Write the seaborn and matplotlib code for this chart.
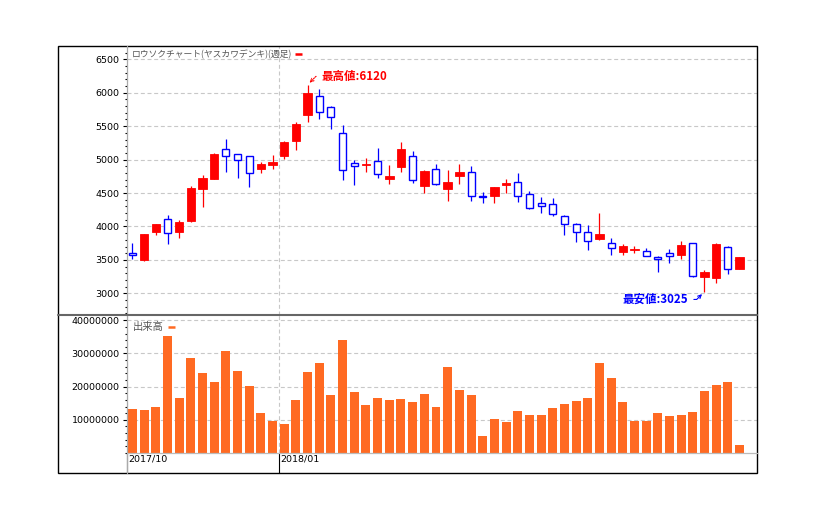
import numpy as np
import pandas as pd
import matplotlib
matplotlib.use("Agg")
import matplotlib.pyplot as plt
import seaborn as sns
from matplotlib.lines import Line2D
from matplotlib.patches import Rectangle
from matplotlib.ticker import MultipleLocator, FuncFormatter, FixedLocator
import matplotlib.transforms as mtransforms

# ---------------- data ----------------
week_start = "2017-10-02"
opens = [3600, 3494, 3918, 4107, 3923, 4082, 4566, 4715, 5154, 5079,
         5049, 4865, 4920, 5059, 5284, 5672, 5947, 5782, 5393, 4945,
         4925, 4975, 4715, 4895, 5049, 4611, 4855, 4566, 4760, 4810,
         4450, 4461, 4626, 4661, 4481, 4351, 4332, 4152, 4032, 3913,
         3818, 3748, 3614, 3644, 3629, 3539, 3599, 3569, 3748, 3250,
         3235, 3689, 3369]
highs = [3760, 3890, 4040, 4172, 4092, 4606, 4765, 5100, 5309, 5082,
         5052, 4960, 5064, 5284, 5563, 6120, 6056, 5802, 5513, 4990,
         5024, 5174, 4915, 5264, 5129, 4845, 4935, 4845, 4935, 4905,
         4511, 4591, 4710, 4800, 4526, 4441, 4421, 4177, 4052, 4017,
         4197, 3823, 3733, 3713, 3674, 3554, 3659, 3778, 3750, 3350,
         3758, 3708, 3540]
lows = [3510, 3485, 3878, 3743, 3833, 4072, 4297, 4712, 4820, 4730,
        4596, 4805, 4865, 5014, 5149, 5568, 5613, 5463, 4700, 4626,
        4820, 4730, 4641, 4820, 4656, 4506, 4626, 4386, 4641, 4386,
        4356, 4356, 4506, 4371, 4267, 4207, 4162, 3878, 3773, 3654,
        3793, 3569, 3569, 3599, 3554, 3325, 3459, 3519, 3250, 3025,
        3160, 3295, 3369]
closes = [3570, 3888, 4037, 3908, 4067, 4576, 4725, 5084, 5049, 4990,
          4795, 4935, 4965, 5264, 5533, 5997, 5707, 5633, 4840, 4900,
          4935, 4780, 4755, 5159, 4690, 4830, 4641, 4666, 4815, 4461,
          4440, 4591, 4651, 4461, 4282, 4302, 4182, 4032, 3913, 3778,
          3883, 3673, 3703, 3664, 3554, 3509, 3554, 3718, 3265, 3320,
          3738, 3369, 3539]
volumes = [13300000, 13000000, 13900000, 35300000, 16600000, 28700000,
           24200000, 21400000, 30800000, 24800000, 20200000, 12100000,
           9700000, 8800000, 16000000, 24500000, 27200000, 17500000,
           34100000, 18400000, 14500000, 16600000, 16000000, 16300000,
           15400000, 17800000, 13900000, 26000000, 19000000, 17500000,
           5100000, 10300000, 9400000, 12700000, 11500000, 11500000,
           13600000, 14800000, 15700000, 16600000, 27200000, 22700000,
           15400000, 9700000, 9700000, 12100000, 11200000, 11500000,
           12400000, 18700000, 20500000, 21400000, 2400000]
tick_labels = ["2017/10", "2018/01"]
tick_weeks = [0, 13]
title_text = "ロウソクチャート(ヤスカワデンキ)(週足)"
volume_label = "出来高"
high_label = "最高値"
low_label = "最安値"

# ---------------- style ----------------
sns.set_style("ticks")
plt.rcParams['font.family'] = ['DejaVu Sans']
CJK = ['Noto Sans CJK JP', 'DejaVu Sans']
RED = "#FF0000"
BLUE = "#0000FF"
ORANGE = "#FF6A22"
GRID = "#C8C8C8"

n = len(opens)
df = pd.DataFrame({
    "week": np.arange(n),
    "date": pd.date_range(week_start, periods=n, freq="W-MON"),
    "open": opens, "high": highs, "low": lows, "close": closes,
    "volume": volumes,
})

W, H = 815, 520
fig = plt.figure(figsize=(W / 100, H / 100), dpi=100)
fig.patch.set_facecolor("white")


def fx(px):
    return px / W


def fy(py):
    return 1 - py / H


L, R = 127, 757
T, MID, BOT, FB = 46, 315, 453, 472.5
ax_p = fig.add_axes([fx(L), fy(MID), fx(R) - fx(L), fy(T) - fy(MID)])
ax_v = fig.add_axes([fx(L), fy(BOT), fx(R) - fx(L), fy(MID) - fy(BOT)], sharex=ax_p)

# ---------------- volume (seaborn) ----------------
sns.barplot(data=df, x="week", y="volume", native_scale=True, color=ORANGE,
            saturation=1, width=0.77, errorbar=None, linewidth=0, ax=ax_v)
ax_v.set_xlabel("")
ax_v.set_ylabel("")

# ---------------- candles ----------------
o = df["open"].to_numpy(float)
c = df["close"].to_numpy(float)
hi = df["high"].to_numpy(float)
lo = df["low"].to_numpy(float)
x = df["week"].to_numpy()
up = c >= o
bb = np.minimum(o, c)
bh = np.abs(c - o)

ax_p.vlines(x[up], lo[up], hi[up], color=RED, lw=0.9, zorder=2)
ax_p.vlines(x[~up], lo[~up], hi[~up], color=BLUE, lw=0.9, zorder=2)
ax_p.bar(x[up], bh[up], bottom=bb[up], width=0.72, color=RED,
         edgecolor=RED, lw=0.6, zorder=3)
ax_p.bar(x[~up], bh[~up], bottom=bb[~up], width=0.6, facecolor="white",
         edgecolor=BLUE, lw=1.0, zorder=3)

# ---------------- axes scales ----------------
ax_p.set_xlim(-0.471, 53.5)
ax_p.set_ylim(2676, 6699)
ax_v.set_ylim(0, 41.6e6)

for ax in (ax_p, ax_v):
    for s in ax.spines.values():
        s.set_visible(False)
    ax.set_facecolor("white")
    ax.set_axisbelow(True)

xt = np.array(tick_weeks) - 0.44
ax_p.xaxis.set_major_locator(FixedLocator(xt))

ax_p.yaxis.set_major_locator(MultipleLocator(500))
ax_p.yaxis.set_minor_locator(MultipleLocator(100))
ax_p.yaxis.set_major_formatter(FuncFormatter(lambda v, p: f"{int(v)}"))
ax_v.yaxis.set_major_locator(FixedLocator([10e6, 20e6, 30e6, 40e6]))
ax_v.yaxis.set_minor_locator(MultipleLocator(2e6))
ax_v.yaxis.set_major_formatter(FuncFormatter(lambda v, p: f"{int(v)}"))

for ax in (ax_p, ax_v):
    ax.tick_params(axis="y", which="major", left=True, length=3.0, width=0.8,
                   color="black", direction="out", pad=2.2, labelsize=6.8,
                   labelcolor="black")
    ax.tick_params(axis="y", which="minor", left=True, length=1.6, width=0.8,
                   color="black", direction="out")
    ax.grid(True, which="major", color=GRID, linestyle=(0, (3.6, 2.4)),
            linewidth=0.8)
ax_p.tick_params(axis="x", which="both", bottom=False, labelbottom=False)
ax_v.tick_params(axis="x", which="major", bottom=True, length=14.4, width=0.8,
                 color="black", direction="out", labelbottom=False)
ax_v.tick_params(axis="x", which="minor", bottom=False)

trans_v = mtransforms.blended_transform_factory(ax_v.transData, ax_v.transAxes)
for pos, lab in zip(xt, tick_labels):
    ax_v.text(pos + 0.08, -0.04, lab, transform=trans_v, ha="left",
              va="center", fontsize=6.8, color="black")

# ---------------- titles / legend markers ----------------
t1 = ax_p.text(0.008, 0.969, title_text, transform=ax_p.transAxes,
               fontsize=6.35, color="#555555", family=CJK, ha="left", va="center")
t2 = ax_v.text(0.009, 0.913, volume_label, transform=ax_v.transAxes,
               fontsize=7.4, color="#555555", family=CJK, ha="left", va="center")

# ---------------- high / low annotations ----------------
imax = int(np.argmax(hi))
imin = int(np.argmin(lo))
ax_p.annotate(f"{high_label}:{int(hi[imax])}", xy=(imax, hi[imax]),
              xytext=(10, 6), textcoords="offset points", ha="left",
              va="center", color=RED, fontsize=8.3, fontweight="bold",
              family=CJK, zorder=5,
              arrowprops=dict(arrowstyle="->", color=RED, lw=0.8,
                              linestyle=(0, (1.2, 1.0)),
                              connectionstyle="angle,angleA=0,angleB=45,rad=0",
                              relpos=(0, 0.5), shrinkA=1.5, shrinkB=2,
                              mutation_scale=6))
ax_p.annotate(f"{low_label}:{int(lo[imin])}", xy=(imin, lo[imin]),
              xytext=(-11.5, -5.6), textcoords="offset points", ha="right",
              va="center", color=BLUE, fontsize=8.3, fontweight="bold",
              family=CJK, zorder=5,
              arrowprops=dict(arrowstyle="->", color=BLUE, lw=0.8,
                              connectionstyle="angle,angleA=0,angleB=45,rad=0",
                              relpos=(1, 0.5), shrinkA=1.5, shrinkB=2.5,
                              mutation_scale=6))

# ---------------- frame & separators ----------------
fig.add_artist(Line2D([fx(L), fx(L)], [fy(T), fy(FB)], color="#AAAAAA", lw=0.9))
fig.add_artist(Line2D([fx(L), fx(R)], [fy(BOT), fy(BOT)], color="#BBBBBB", lw=0.9))
fig.add_artist(Line2D([fx(58), fx(757)], [fy(314.5), fy(314.5)], color="#666666", lw=1.5))
fig.add_artist(Rectangle((fx(58), fy(FB)), fx(757.5) - fx(58), fy(T) - fy(FB),
                         transform=fig.transFigure, fill=False, ec="black", lw=1.0))

# legend markers placed after the label texts
fig.canvas.draw()
renderer = fig.canvas.get_renderer()
for t, col, gap, ln in ((t1, RED, 2.5, 7.5), (t2, ORANGE, 5.0, 6.6)):
    b = t.get_window_extent(renderer)
    yc = (b.y0 + b.y1) / 2
    x0 = b.x1 + gap
    fig.add_artist(Line2D([x0 / W, (x0 + ln) / W], [yc / H, yc / H],
                          color=col, lw=1.8, solid_capstyle="butt"))

fig.savefig("out.png", dpi=100, facecolor="white")
